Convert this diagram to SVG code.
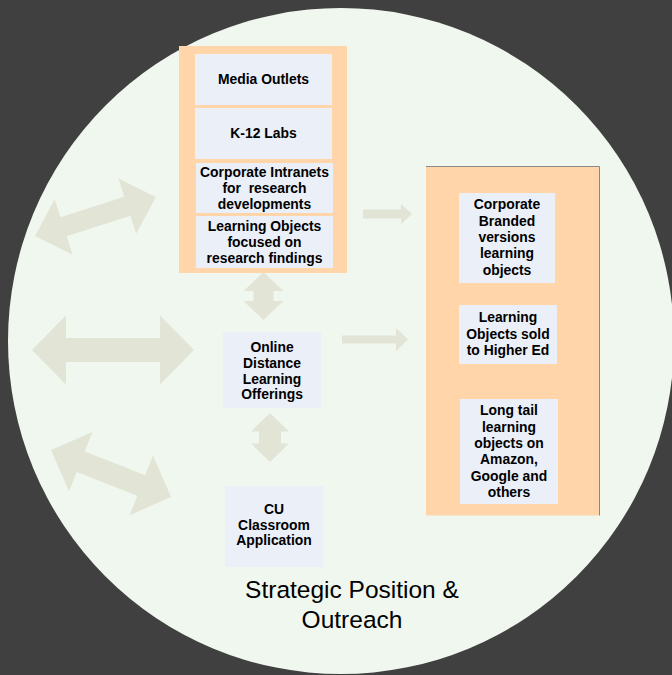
<svg xmlns="http://www.w3.org/2000/svg" width="672" height="675" viewBox="0 0 672 675">
<defs>
<style>
.bg{fill:#404040}
.circ{fill:#F0F7EE}
.panel{fill:#FFD5A9}
.box{fill:#EBEFF8}
.arr{fill:#E2E5D6}
.t{font-family:"Liberation Sans",Arial,sans-serif;font-weight:bold;font-size:13.9px;fill:#000;text-anchor:middle}
.title{font-family:"Liberation Sans",Arial,sans-serif;font-size:24.5px;fill:#000;text-anchor:middle}
</style>
</defs>
<rect class="bg" x="0" y="0" width="672" height="675"/>
<circle class="circ" cx="341" cy="341" r="333"/>

<g id="connectors">
<polygon class="arr" transform="translate(35,236) rotate(-17.9)" points="0,0 30,-29 30,-10 97,-10 97,-29 127,0 97,29 97,10 30,10 30,29"/>
<polygon class="arr" transform="translate(32,350)" points="0,0 34,-34.5 34,-12 128,-12 128,-34.5 162,0 128,34.5 128,12 34,12 34,34.5"/>
<polygon class="arr" transform="translate(51,450) rotate(21.4)" points="0,0 32,-32 32,-11 97,-11 97,-32 129,0 97,32 97,11 32,11 32,32"/>
<polygon class="arr" points="263.5,272 283.5,291 273.5,291 273.5,301 283.5,301 263.5,320 243.5,301 253.5,301 253.5,291 243.5,291"/>
<polygon class="arr" points="270,413 289,431.5 281,431.5 281,443.5 289,443.5 270,462 251,443.5 259,443.5 259,431.5 251,431.5"/>
<polygon class="arr" points="363,209.5 401,209.5 401,204 412,214 401,224 401,218.5 363,218.5"/>
<polygon class="arr" points="342,335.5 396,335.5 396,328 408,339.5 396,351 396,343.5 342,343.5"/>
</g>

<g id="left-panel">
<rect class="panel" x="179" y="46" width="168" height="227"/>
</g>
<g id="media-outlets">
<rect class="box" x="195" y="54" width="137" height="51"/>
<text class="t" x="263.5" y="84">Media Outlets</text>
</g>
<g id="k12-labs">
<rect class="box" x="195" y="108" width="137" height="51"/>
<text class="t" x="263.5" y="138">K-12 Labs</text>
</g>
<g id="corporate-intranets">
<rect class="box" x="196" y="163" width="137" height="50"/>
<text class="t" x="264.5" y="177">Corporate Intranets</text>
<text class="t" x="264.5" y="193" xml:space="preserve">for  research</text>
<text class="t" x="264.5" y="209">developments</text>
</g>
<g id="learning-objects-research">
<rect class="box" x="196" y="216" width="137" height="52"/>
<text class="t" x="264.5" y="231">Learning Objects</text>
<text class="t" x="264.5" y="247">focused on</text>
<text class="t" x="264.5" y="263">research findings</text>
</g>

<g id="online-distance">
<rect class="box" x="223" y="332" width="98" height="76"/>
<text class="t" x="272" y="352">Online</text>
<text class="t" x="272" y="368">Distance</text>
<text class="t" x="272" y="384">Learning</text>
<text class="t" x="272" y="399">Offerings</text>
</g>

<g id="cu-classroom">
<rect class="box" x="225" y="486" width="98" height="81"/>
<text class="t" x="274" y="514">CU</text>
<text class="t" x="274" y="530">Classroom</text>
<text class="t" x="274" y="545">Application</text>
</g>

<g id="right-panel">
<rect class="panel" x="426" y="166" width="173.5" height="349.5"/>
<polyline points="426,166.5 599.5,166.5 599.5,515.5" fill="none" stroke="#888" stroke-width="1"/>
</g>
<g id="corporate-branded">
<rect class="box" x="459" y="193" width="96" height="90"/>
<text class="t" x="507" y="209">Corporate</text>
<text class="t" x="507" y="226">Branded</text>
<text class="t" x="507" y="242">versions</text>
<text class="t" x="507" y="258">learning</text>
<text class="t" x="507" y="275">objects</text>
</g>
<g id="higher-ed">
<rect class="box" x="459" y="305" width="98" height="59"/>
<text class="t" x="508" y="322">Learning</text>
<text class="t" x="508" y="339">Objects sold</text>
<text class="t" x="508" y="355">to Higher Ed</text>
</g>
<g id="long-tail">
<rect class="box" x="460" y="399" width="98" height="105"/>
<text class="t" x="509" y="415">Long tail</text>
<text class="t" x="509" y="432">learning</text>
<text class="t" x="509" y="448">objects on</text>
<text class="t" x="509" y="464">Amazon,</text>
<text class="t" x="509" y="481">Google and</text>
<text class="t" x="509" y="497">others</text>
</g>

<g id="title">
<text class="title" x="352" y="598">Strategic Position &amp;</text>
<text class="title" x="352" y="628">Outreach</text>
</g>
</svg>
